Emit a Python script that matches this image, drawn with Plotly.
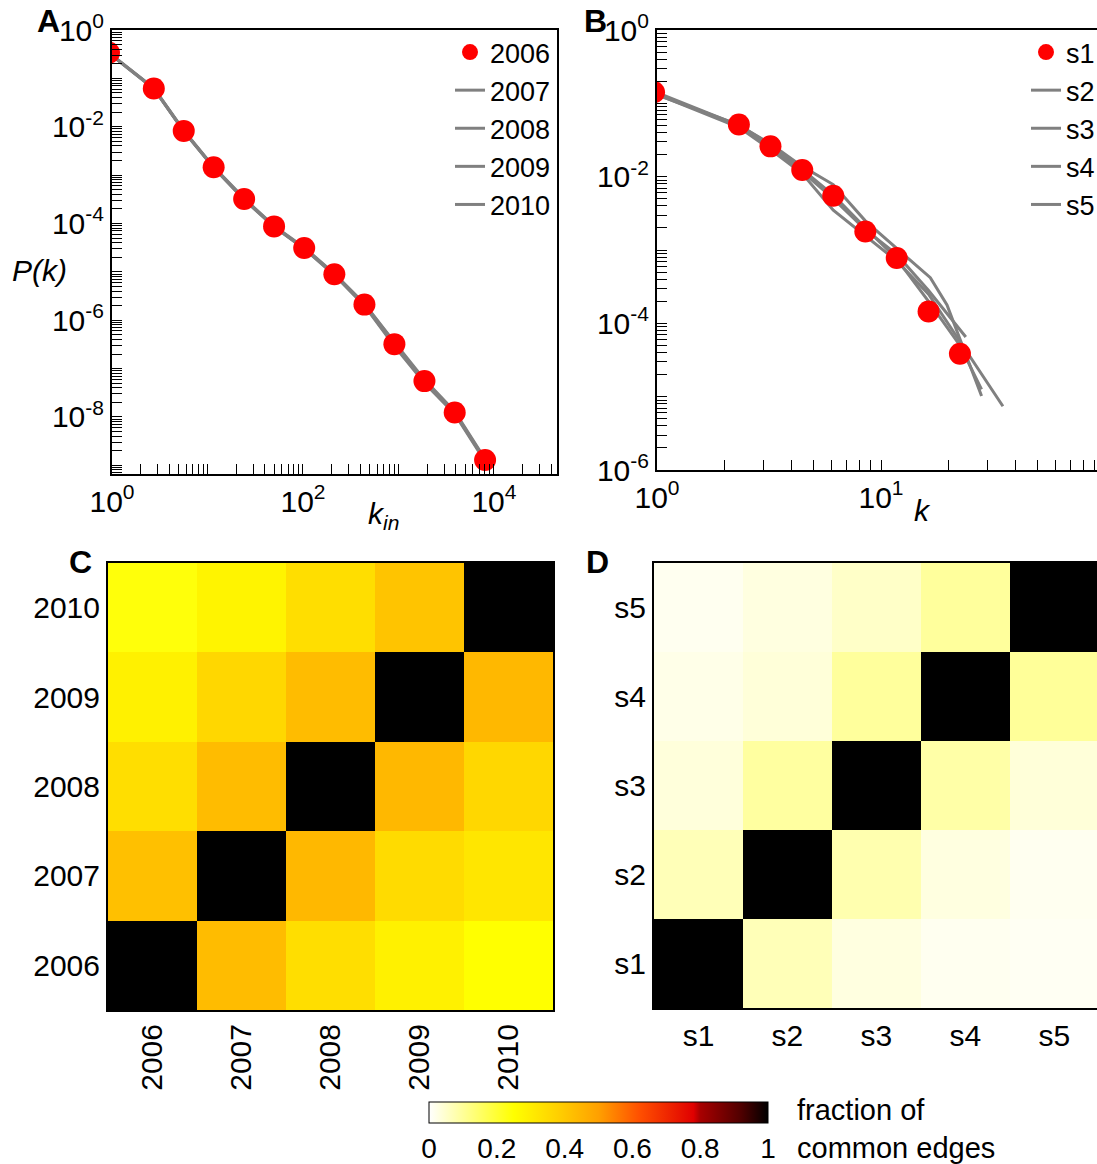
import plotly.graph_objects as go

W, H = 1097, 1164
def px(x):
    return x / W
def py(y):
    return 1 - y / H

FONT = "Liberation Sans, Arial, sans-serif"

# ---------------- Panel A: in-degree distribution per year ----------------
k_in = [0.93, 2.74, 5.64, 11.6, 24.2, 49.8, 103, 213, 440, 906, 1870, 3880, 8070]
p_2006 = [3.4e-1, 6.2e-2, 8.2e-3, 1.45e-3, 3.2e-4, 8.7e-5, 3.1e-5, 8.9e-6, 2.1e-6, 3.2e-7, 5.5e-8, 1.23e-8, 1.29e-9]
p_2007 = [3.3e-1, 6.1e-2, 8.0e-3, 1.42e-3, 3.1e-4, 8.5e-5, 3.0e-5, 8.6e-6, 2.0e-6, 2.9e-7, 5.0e-8, 1.15e-8, 1.2e-9]
p_2008 = [3.4e-1, 6.3e-2, 8.4e-3, 1.48e-3, 3.3e-4, 8.9e-5, 3.2e-5, 9.2e-6, 2.2e-6, 3.5e-7, 5.9e-8, 1.3e-8, 1.35e-9]
p_2009 = [3.35e-1, 6.2e-2, 8.2e-3, 1.45e-3, 3.2e-4, 8.7e-5, 3.1e-5, 9.0e-6, 2.15e-6, 3.3e-7, 5.3e-8, 1.2e-8, 1.3e-9]
p_2010 = [3.3e-1, 6.15e-2, 8.1e-3, 1.44e-3, 3.15e-4, 8.6e-5, 3.05e-5, 8.8e-6, 2.05e-6, 3.1e-7, 5.6e-8, 1.25e-8, 1.25e-9]

# ---------------- Panel B: degree distribution per sample ----------------
k_s1 = [0.97, 2.32, 3.21, 4.45, 6.12, 8.51, 11.75, 16.3, 22.5]
p_s1 = [1.42e-1, 5.16e-2, 2.59e-2, 1.23e-2, 5.48e-3, 1.79e-3, 7.76e-4, 1.45e-4, 3.84e-5]
k_s2 = [0.97, 2.32, 3.21, 4.45, 6.12, 8.51, 11.75, 16.6, 19.7, 28.1]
p_s2 = [1.45e-1, 5.0e-2, 2.82e-2, 1.38e-2, 7.8e-3, 2.5e-3, 1.05e-3, 4.2e-4, 1.78e-4, 1.02e-5]
k_s3 = [0.97, 2.32, 3.21, 4.45, 6.12, 8.51, 11.75, 16.3, 22.5, 35.0]
p_s3 = [1.38e-1, 4.7e-2, 2.34e-2, 1.10e-2, 3.5e-3, 1.58e-3, 7.1e-4, 2.5e-4, 5.6e-5, 7.4e-6]
k_s4 = [0.97, 2.32, 3.21, 4.45, 6.12, 8.51, 11.75, 16.3, 23.9]
p_s4 = [1.41e-1, 4.9e-2, 2.5e-2, 1.17e-2, 5.0e-3, 1.9e-3, 8.7e-4, 2.8e-4, 6.5e-5]
k_s5 = [0.97, 2.32, 3.21, 4.45, 6.12, 8.51, 11.75, 16.3, 22.5, 28.1]
p_s5 = [1.35e-1, 5.1e-2, 2.7e-2, 1.26e-2, 5.6e-3, 2.0e-3, 7.6e-4, 2.0e-4, 5.0e-5, 1.26e-5]

# ---------------- Panel C / D: fraction of common edges ----------------
years = ["2006", "2007", "2008", "2009", "2010"]
overlap_years = [  # rows: 2006 (bottom) .. 2010 (top); columns 2006 .. 2010
    [1.00, 0.43, 0.34, 0.29, 0.25],
    [0.42, 1.00, 0.44, 0.35, 0.32],
    [0.34, 0.43, 1.00, 0.44, 0.36],
    [0.29, 0.36, 0.43, 1.00, 0.44],
    [0.24, 0.28, 0.34, 0.41, 1.00],
]
samples = ["s1", "s2", "s3", "s4", "s5"]
overlap_samples = [  # rows: s1 (bottom) .. s5 (top)
    [1.00, 0.070, 0.030, 0.015, 0.012],
    [0.070, 1.00, 0.078, 0.030, 0.015],
    [0.035, 0.093, 1.00, 0.086, 0.037],
    [0.023, 0.037, 0.097, 1.00, 0.100],
    [0.015, 0.030, 0.054, 0.097, 1.00],
]
cbar_ticks = [0, 0.2, 0.4, 0.6, 0.8, 1]
cbar_labels = ["0", "0.2", "0.4", "0.6", "0.8", "1"]

GRAY = "#808080"
RED = "#ff0000"

fig = go.Figure()

# Panel A traces
for i, (name, p) in enumerate([("2007", p_2007), ("2008", p_2008), ("2009", p_2009), ("2010", p_2010)]):
    fig.add_trace(go.Scatter(x=k_in, y=p, mode="lines", name=name,
                             line=dict(color=GRAY, width=3), legend="legend",
                             legendrank=2 + i, xaxis="x", yaxis="y"))
fig.add_trace(go.Scatter(x=k_in, y=p_2006, mode="markers", name="2006",
                         marker=dict(color=RED, size=22), legend="legend",
                         legendrank=1, xaxis="x", yaxis="y"))

# Panel B traces
for i, (name, k, p) in enumerate([("s2", k_s2, p_s2), ("s3", k_s3, p_s3),
                                   ("s4", k_s4, p_s4), ("s5", k_s5, p_s5)]):
    fig.add_trace(go.Scatter(x=k, y=p, mode="lines", name=name,
                             line=dict(color=GRAY, width=3), legend="legend2",
                             legendrank=2 + i, xaxis="x2", yaxis="y2"))
fig.add_trace(go.Scatter(x=k_s1, y=p_s1, mode="markers", name="s1",
                         marker=dict(color=RED, size=22), legend="legend2",
                         legendrank=1, xaxis="x2", yaxis="y2"))

# Heatmaps
fig.add_trace(go.Heatmap(x=years, y=years, z=overlap_years, coloraxis="coloraxis",
                         xaxis="x3", yaxis="y3", showlegend=False))
fig.add_trace(go.Heatmap(x=samples, y=samples, z=overlap_samples, coloraxis="coloraxis",
                         xaxis="x4", yaxis="y4", showlegend=False))

tickfont = dict(family=FONT, size=30, color="black")

def sup(e):
    return "10<sup>%d</sup>" % e

box = dict(showline=True, linecolor="black", linewidth=2, mirror=True,
           showgrid=False, zeroline=False)

def minor_vals(d0, d1):
    return [m * 10.0 ** d for d in range(d0, d1) for m in range(2, 10)]

# Panel A axes
xA_ticks = [10.0 ** d for d in range(0, 5)]
yA_ticks = [10.0 ** -d for d in range(0, 10)]
fig.update_layout(
    xaxis=dict(type="log", range=[0, 4.66], domain=[px(112), px(557)], anchor="y",
               tickmode="array", tickvals=xA_ticks,
               ticktext=[sup(d) if d % 2 == 0 else "" for d in range(0, 5)],
               ticks="inside", ticklen=10, tickwidth=1, tickcolor="black",
               minor=dict(tickmode="array", tickvals=minor_vals(0, 5), ticks="inside",
                          ticklen=10, tickwidth=1, tickcolor="black"),
               tickfont=tickfont, **box),
    yaxis=dict(type="log", range=[-9.18, 0], domain=[py(474), py(30)], anchor="x",
               tickmode="array", tickvals=yA_ticks,
               ticktext=[sup(-d) if d % 2 == 0 else "" for d in range(0, 10)],
               ticks="inside", ticklen=10, tickwidth=1, tickcolor="black",
               minor=dict(tickmode="array", tickvals=minor_vals(-10, 0), ticks="inside",
                          ticklen=10, tickwidth=1, tickcolor="black"),
               tickfont=tickfont, **box),
)

# Panel B axes
fig.update_layout(
    xaxis2=dict(type="log", range=[0, 1.964], domain=[px(657), 1.0], anchor="y2",
                tickmode="array", tickvals=[1, 10, 100],
                ticktext=[sup(0), sup(1), sup(2)],
                ticks="inside", ticklen=10, tickwidth=1, tickcolor="black",
                minor=dict(tickmode="array", tickvals=minor_vals(0, 2), ticks="inside",
                           ticklen=10, tickwidth=1, tickcolor="black"),
                tickfont=tickfont, **box),
    yaxis2=dict(type="log", range=[-6, 0], domain=[py(470), py(30)], anchor="x2",
                tickmode="array", tickvals=[10.0 ** -d for d in range(0, 7)],
                ticktext=[sup(-d) if d % 2 == 0 else "" for d in range(0, 7)],
                ticks="inside", ticklen=10, tickwidth=1, tickcolor="black",
                minor=dict(tickmode="array", tickvals=minor_vals(-6, 0), ticks="inside",
                           ticklen=10, tickwidth=1, tickcolor="black"),
                tickfont=tickfont, **box),
)

# Heatmap axes
fig.update_layout(
    xaxis3=dict(type="category", domain=[px(108), px(553)], anchor="y3",
                tickangle=-90, ticks="", tickfont=tickfont, **box),
    yaxis3=dict(type="category", domain=[py(1010), py(563)], anchor="x3",
                ticks="", tickfont=tickfont, **box),
    xaxis4=dict(type="category", domain=[px(654), 1.0], anchor="y4", range=[-0.5, 4.48],
                ticks="", tickfont=tickfont, **box),
    yaxis4=dict(type="category", domain=[py(1008), py(563)], anchor="x4",
                ticks="", tickfont=tickfont, **box),
)

colorscale = [
    [0.0, "#ffffff"],
    [0.25, "#ffff00"],
    [0.38, "#ffd000"],
    [0.5, "#ffa000"],
    [0.62, "#ff5000"],
    [0.78, "#e00000"],
    [0.80, "#a80000"],
    [0.92, "#500000"],
    [1.0, "#000000"],
]
fig.update_layout(
    coloraxis=dict(
        colorscale=colorscale, cmin=0, cmax=1,
        colorbar=dict(orientation="h", x=px(598.5), xanchor="center",
                      y=py(1102), yanchor="top", ypad=0, xpad=0,
                      len=339, lenmode="pixels", thickness=21, thicknessmode="pixels",
                      outlinewidth=1, outlinecolor="black",
                      tickmode="array", tickvals=cbar_ticks, ticktext=cbar_labels,
                      ticks="", ticklen=0,
                      tickfont=dict(family=FONT, size=28, color="black")),
    )
)

legfont = dict(family=FONT, size=27, color="black")
fig.update_layout(
    legend=dict(x=px(450), y=py(28), xanchor="left", yanchor="top",
                bgcolor="rgba(0,0,0,0)", font=legfont, traceorder="normal",
                itemclick=False, tracegroupgap=0),
    legend2=dict(x=px(1026), y=py(28), xanchor="left", yanchor="top",
                 bgcolor="rgba(0,0,0,0)", font=legfont, traceorder="normal",
                 itemclick=False, tracegroupgap=0),
)

ann = []
def add_text(text, x, y, size=30, bold=False, xanchor="center", align="center"):
    t = "<b>%s</b>" % text if bold else text
    ann.append(dict(text=t, x=px(x), y=py(y), xref="paper", yref="paper",
                    showarrow=False, xanchor=xanchor, yanchor="middle", align=align,
                    font=dict(family=FONT, size=size, color="black")))

add_text("A", 48, 21, size=32, bold=True)
add_text("B", 595, 21, size=32, bold=True)
add_text("C", 80, 562, size=32, bold=True)
add_text("D", 597, 562, size=32, bold=True)
add_text("<i>P(k)</i>", 39, 270)
add_text("<i>k<sub>in</sub></i>", 383, 515)
add_text("<i>k</i>", 922, 510)
add_text("fraction of<br>common edges", 795, 1129, size=29, xanchor="left", align="left")

fig.update_layout(
    annotations=ann,
    width=W, height=H,
    margin=dict(l=0, r=0, t=0, b=0, autoexpand=False),
    paper_bgcolor="white", plot_bgcolor="white",
    font=dict(family=FONT, size=29, color="black"),
    showlegend=True,
)

fig.write_html("out.html", config={"displayModeBar": False},
               post_script="document.body.style.margin='0';document.body.style.overflow='hidden';")
